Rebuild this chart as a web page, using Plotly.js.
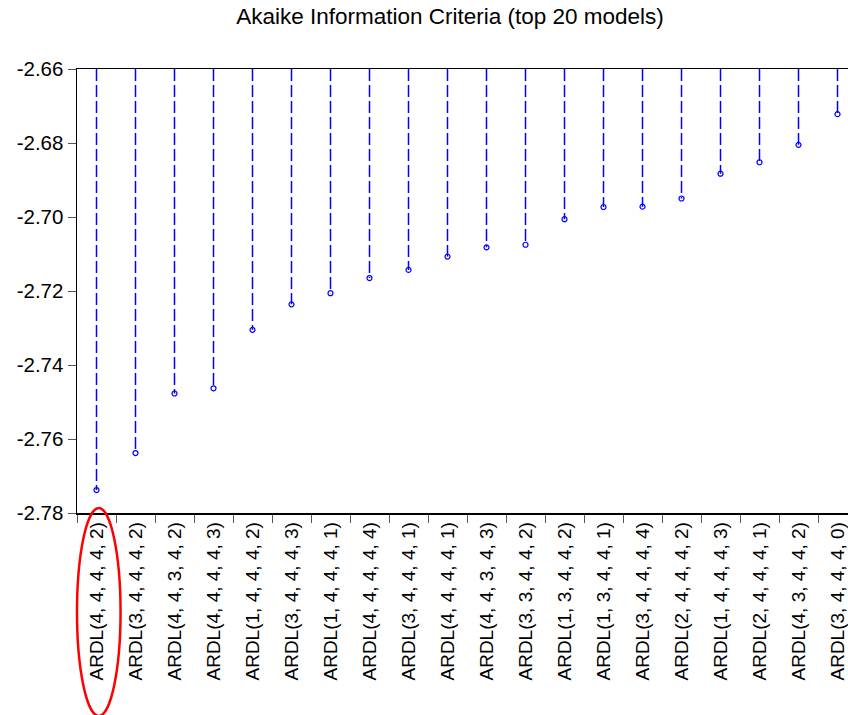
<!DOCTYPE html>
<html>
<head>
<meta charset="utf-8">
<script src="https://cdn.plot.ly/plotly-3.0.1.min.js"></script>
<style>html,body{margin:0;padding:0;background:#fff;}#chart{width:848px;height:715px;}</style>
</head>
<body>
<div id="chart"></div>
<script>
var models = [
  "ARDL(4, 4, 4, 4, 2)", "ARDL(3, 4, 4, 4, 2)", "ARDL(4, 4, 3, 4, 2)", "ARDL(4, 4, 4, 4, 3)",
  "ARDL(1, 4, 4, 4, 2)", "ARDL(3, 4, 4, 4, 3)", "ARDL(1, 4, 4, 4, 1)", "ARDL(4, 4, 4, 4, 4)",
  "ARDL(3, 4, 4, 4, 1)", "ARDL(4, 4, 4, 4, 1)", "ARDL(4, 4, 3, 4, 3)", "ARDL(3, 3, 4, 4, 2)",
  "ARDL(1, 3, 4, 4, 2)", "ARDL(1, 3, 4, 4, 1)", "ARDL(3, 4, 4, 4, 4)", "ARDL(2, 4, 4, 4, 2)",
  "ARDL(1, 4, 4, 4, 3)", "ARDL(2, 4, 4, 4, 1)", "ARDL(4, 3, 4, 4, 2)", "ARDL(3, 4, 4, 4, 0)"
];
var aic = [
  -2.7738, -2.7638, -2.7477, -2.7463, -2.7305, -2.7236, -2.7206, -2.7165,
  -2.7143, -2.7107, -2.7082, -2.7075, -2.7006, -2.6973, -2.6972, -2.6950,
  -2.6883, -2.6852, -2.6805, -2.6722
];
var yTickVals = [-2.78, -2.76, -2.74, -2.72, -2.70, -2.68, -2.66];
var yTickText = ["-2.78", "-2.76", "-2.74", "-2.72", "-2.70", "-2.68", "-2.66"];
var yTop = -2.66, yBottom = -2.78;

var stemX = [], stemY = [];
for (var i = 0; i < models.length; i++) {
  stemX.push(models[i], models[i], null);
  stemY.push(yTop, aic[i], null);
}

var font = "Liberation Sans, Arial, Helvetica, sans-serif";
var traces = [
  {
    type: "scatter", mode: "lines", x: stemX, y: stemY,
    line: {color: "#0000ff", width: 1.5, dash: "12px,4px"},
    hoverinfo: "skip", showlegend: false, connectgaps: false
  },
  {
    type: "scatter", mode: "markers", x: models, y: aic,
    marker: {symbol: "circle-open", size: 5, color: "#0000ff", line: {width: 1.2, color: "#0000ff"}},
    showlegend: false
  }
];

var layout = {
  width: 848, height: 715,
  margin: {l: 77, r: 0, t: 69, b: 202, pad: 0},
  paper_bgcolor: "#fff", plot_bgcolor: "#fff",
  font: {family: font, color: "#000", size: 19},
  title: {
    text: "Akaike Information Criteria (top 20 models)",
    font: {family: font, size: 22.5, color: "#000"},
    x: 0.5307, xanchor: "center", xref: "container",
    y: 0.988, yanchor: "top", yref: "container"
  },
  xaxis: {
    type: "category", categoryorder: "array", categoryarray: models,
    range: [-0.5, 19.269],
    showgrid: false, zeroline: false,
    showline: true, linecolor: "#000", linewidth: 1.5, mirror: true,
    ticks: "outside", tickson: "boundaries", ticklen: 8, tickcolor: "#555", tickwidth: 1,
    tickangle: -90, tickfont: {family: font, size: 19, color: "#000"}
  },
  yaxis: {
    range: [yBottom, yTop],
    tickvals: yTickVals, ticktext: yTickText,
    showgrid: false, zeroline: false,
    showline: true, linecolor: "#000", linewidth: 1.5, mirror: false,
    ticks: "outside", ticklen: 8, tickcolor: "#555", tickwidth: 1,
    tickfont: {family: font, size: 20.5, color: "#000"}
  },
  shapes: [{
    type: "circle", xref: "paper", yref: "paper",
    x0: 0.0, x1: 0.0565, y0: -0.457, y1: 0.011,
    line: {color: "#ff0000", width: 2.5}, fillcolor: "rgba(0,0,0,0)"
  }]
};

Plotly.newPlot("chart", traces, layout, {displayModeBar: false, staticPlot: true});
</script>
</body>
</html>
